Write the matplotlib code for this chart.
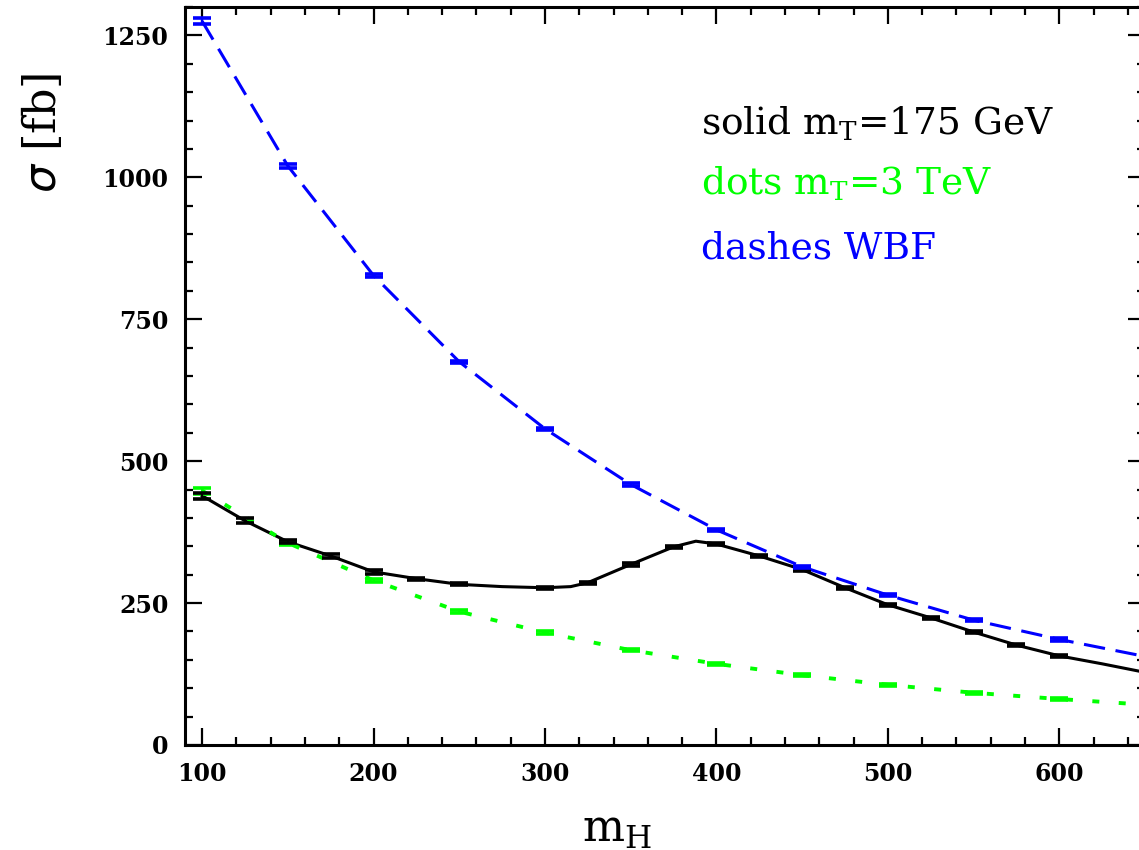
import matplotlib.pyplot as plt
from matplotlib.ticker import MultipleLocator

# points with error bars
mh_solid = [100, 125, 150, 175, 200, 225, 250, 300, 325, 350, 375, 400,
            425, 450, 475, 500, 525, 550, 575, 600]
sig_solid = [439, 395, 358, 333, 305, 293, 283, 277, 286, 318, 349, 354,
             333, 309, 277, 247, 224, 199, 176, 157]
err_solid = [5, 4, 3, 3, 3, 2, 2, 2, 2, 2, 2, 2, 2, 2, 2, 2, 2, 2, 2, 2]

mh_50 = [100, 150, 200, 250, 300, 350, 400, 450, 500, 550, 600]
sig_dots = [448, 356, 290, 235, 198, 167, 143, 123, 106, 92, 81]
err_dots = [5, 3, 3, 2, 2, 2, 2, 2, 2, 2, 2]
sig_wbf = [1275, 1020, 827, 675, 557, 459, 379, 314, 264, 220, 186]
err_wbf = [5, 3, 2, 2, 2, 2, 2, 2, 2, 2, 2]

# curves drawn through the points, with extra readings between points / at the edge
mh_curve_solid = [100, 125, 150, 175, 200, 225, 250, 275, 300, 315, 325, 350, 375,
                  388, 400, 425, 450, 475, 500, 525, 550, 575, 600, 625, 650]
sig_curve_solid = [439, 395, 358, 333, 305, 293, 283, 279, 277, 279, 286, 318, 349,
                   359, 354, 333, 309, 277, 247, 224, 199, 176, 157, 143, 128]
mh_curve_50 = mh_50 + [650]
sig_curve_dots = sig_dots + [71]
sig_curve_wbf = sig_wbf + [156]

green = '#00ff00'
blue = '#0000ff'

fig = plt.figure(figsize=(11.39, 8.5), dpi=100)
ax = fig.add_axes([185 / 1139, 105 / 850, 960 / 1139, 738 / 850])

ax.plot(mh_curve_solid, sig_curve_solid, color='black', lw=2.2)
ax.plot(mh_curve_50, sig_curve_dots, color=green, lw=2.8, dashes=(1.8, 5))
ax.plot(mh_curve_50, sig_curve_wbf, color=blue, lw=2.2, dashes=(7, 3.5))

eb = dict(fmt='none', capsize=6.5, capthick=2.6, elinewidth=1.5)
ax.errorbar(mh_50, sig_dots, yerr=err_dots, ecolor=green, **eb)
ax.errorbar(mh_solid, sig_solid, yerr=err_solid, ecolor='black', **eb)
ax.errorbar(mh_50, sig_wbf, yerr=err_wbf, ecolor=blue, **eb)

ax.set_xlim(90, 650)
ax.set_ylim(0, 1300)
ax.xaxis.set_major_locator(MultipleLocator(100))
ax.xaxis.set_minor_locator(MultipleLocator(20))
ax.yaxis.set_major_locator(MultipleLocator(250))
ax.yaxis.set_minor_locator(MultipleLocator(50))
ax.tick_params(which='both', direction='in', top=True, right=True, width=1.6)
ax.tick_params(which='major', length=12, pad=12)
ax.tick_params(which='minor', length=6)
for s in ax.spines.values():
    s.set_linewidth(2.2)

for lab in ax.get_xticklabels() + ax.get_yticklabels():
    lab.set_family('DejaVu Serif')
    lab.set_weight('bold')
    lab.set_fontsize(17)

serif = 'DejaVu Serif'
ax.set_xlabel(r'm$_\mathregular{H}$', fontsize=32, family=serif)
ax.xaxis.set_label_coords(0.45, -0.085)
ax.set_ylabel(r'$\sigma$ [fb]', fontsize=32, family=serif)
ax.yaxis.set_label_coords(-0.125, 0.83)

ax.text(0.538, 0.842, r'solid m$_\mathregular{T}$=175 GeV', transform=ax.transAxes,
        fontsize=27, family=serif, color='black', va='center')
ax.text(0.538, 0.76, r'dots m$_\mathregular{T}$=3 TeV', transform=ax.transAxes,
        fontsize=27, family=serif, color=green, va='center')
ax.text(0.538, 0.673, 'dashes WBF', transform=ax.transAxes,
        fontsize=27, family=serif, color=blue, va='center')

fig.savefig('out.png', dpi=100)
